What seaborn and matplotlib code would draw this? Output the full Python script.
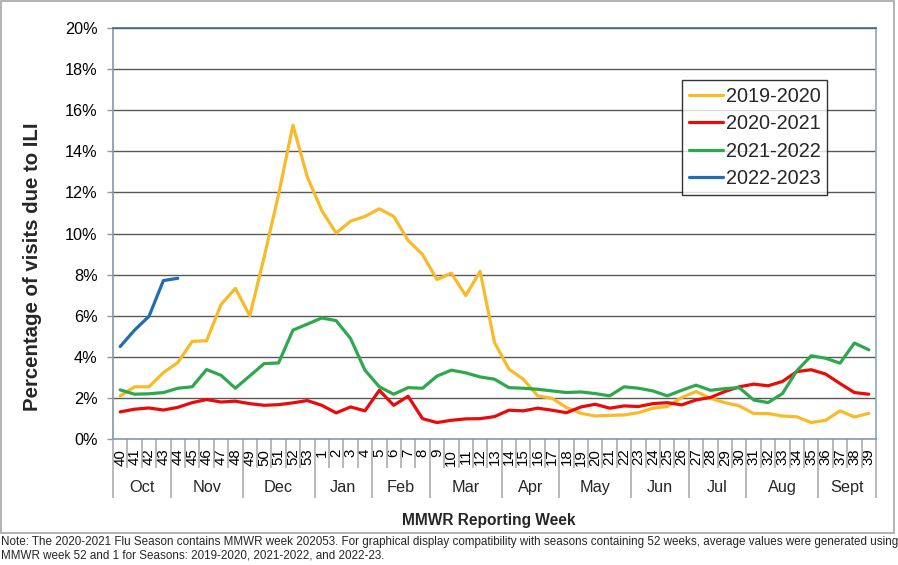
"""ILI percentage of visits by MMWR week, four flu seasons."""

import matplotlib
matplotlib.use("Agg")
import matplotlib.pyplot as plt
import numpy as np
import pandas as pd
import seaborn as sns
from matplotlib.patches import Rectangle
from matplotlib.ticker import PercentFormatter

# MMWR weeks shown on the x axis (season order)
weeks = [str(w) for w in list(range(40, 54)) + list(range(1, 40))]

# month groups under the week labels
months = ["Oct", "Nov", "Dec", "Jan", "Feb", "Mar", "Apr", "May", "Jun", "Jul", "Aug", "Sept"]
month_weeks = [4, 5, 5, 4, 4, 5, 4, 5, 4, 4, 5, 4]

# percentage of visits due to ILI
ili_2019 = [2.10, 2.54, 2.54, 3.23, 3.72, 4.75, 4.78, 6.54, 7.33, 6.00,
            8.85, 11.90, 15.27, 12.75, 11.12, 10.02, 10.60, 10.83, 11.20, 10.83,
            9.66, 8.98, 7.76, 8.07, 6.98, 8.16, 4.70, 3.40, 2.91, 2.10,
            1.98, 1.53, 1.25, 1.12, 1.15, 1.17, 1.28, 1.50, 1.58, 2.02,
            2.31, 1.98, 1.77, 1.61, 1.24, 1.24, 1.12, 1.08, 0.80, 0.91,
            1.37, 1.07, 1.25]
ili_2020 = [1.32, 1.45, 1.51, 1.41, 1.54, 1.77, 1.92, 1.80, 1.84, 1.72,
            1.64, 1.67, 1.76, 1.87, 1.64, 1.27, 1.56, 1.37, 2.37, 1.64,
            2.08, 0.99, 0.80, 0.91, 0.98, 0.99, 1.09, 1.40, 1.37, 1.50,
            1.40, 1.28, 1.56, 1.69, 1.50, 1.61, 1.58, 1.72, 1.77, 1.66,
            1.90, 2.02, 2.31, 2.54, 2.67, 2.59, 2.80, 3.28, 3.37, 3.16,
            2.70, 2.26, 2.18]
ili_2021 = [2.39, 2.18, 2.20, 2.26, 2.47, 2.54, 3.38, 3.10, 2.47, 3.07,
            3.67, 3.70, 5.30, 5.59, 5.89, 5.76, 4.89, 3.35, 2.54, 2.18,
            2.50, 2.47, 3.06, 3.35, 3.22, 3.02, 2.91, 2.50, 2.47, 2.42,
            2.34, 2.26, 2.29, 2.21, 2.10, 2.54, 2.47, 2.34, 2.10, 2.37,
            2.62, 2.37, 2.45, 2.50, 1.90, 1.77, 2.21, 3.32, 4.05, 3.93,
            3.69, 4.67, 4.34]
ili_2022 = [4.50, 5.30, 5.97, 7.71, 7.82]

seasons = ["2019-2020", "2020-2021", "2021-2022", "2022-2023"]
colors = ["#F9BA2A", "#EA0A0A", "#2EA84C", "#1F6EB4"]

note = ("Note: The 2020-2021 Flu Season contains MMWR week 202053. For graphical display "
        "compatibility with seasons containing 52 weeks, average values were generated using\n"
        "MMWR week 52 and 1 for Seasons: 2019-2020, 2021-2022, and 2022-23.")

# long-form table for seaborn
frames = []
for name, vals in zip(seasons, [ili_2019, ili_2020, ili_2021, ili_2022]):
    frames.append(pd.DataFrame({"pos": np.arange(len(vals)), "ili": vals, "season": name}))
df = pd.concat(frames, ignore_index=True)

sns.set_theme(style="white")
plt.rcParams["font.family"] = ["Liberation Sans", "DejaVu Sans"]

W, H = 898, 565
fig = plt.figure(figsize=(W / 100, H / 100), dpi=100)
ax = fig.add_axes([113 / W, 1 - 439 / H, (876 - 113) / W, (439 - 28) / H])

sns.lineplot(data=df, x="pos", y="ili", hue="season", hue_order=seasons,
             palette=dict(zip(seasons, colors)), linewidth=2.3, ax=ax)

ax.set_xlim(-0.5, len(weeks) - 0.5)
ax.set_ylim(0, 20)
ax.set_yticks(np.arange(0, 21, 2))
ax.yaxis.set_major_formatter(PercentFormatter(xmax=100, decimals=0))
ax.set_xticks(np.arange(len(weeks)))
ax.set_xticklabels(weeks, rotation=90)
ax.set_xlabel("")
ax.set_ylabel("")
ax.grid(axis="y", color="#595959", linewidth=1.0)
ax.set_axisbelow(True)

ax.tick_params(axis="y", left=True, length=4, width=1, color="#8a9bab",
               pad=7, labelsize=11.7, labelcolor="black")
ax.tick_params(axis="x", bottom=False, length=0, pad=7, labelsize=10.8,
               labelcolor="black")

ax.spines["left"].set_color("#8497a8")
ax.spines["bottom"].set_color("#8a9bab")
ax.spines["top"].set_color("#3f6f94")
ax.spines["right"].set_color("#86a9c9")
for sp in ax.spines.values():
    sp.set_linewidth(1.2)

# week and month separators below the axis
bounds = np.concatenate([[0], np.cumsum(month_weeks)]) - 0.5
week_lines = [k - 0.5 for k in range(1, len(weeks)) if (k - 0.5) not in bounds]
xtr = ax.get_xaxis_transform()
ax.vlines(week_lines, -0.0706, 0, transform=xtr, clip_on=False,
          color="#a6a6a6", linewidth=1.1)
ax.vlines(bounds, -0.1436, 0, transform=xtr, clip_on=False,
          color="#a6a6a6", linewidth=1.1)
for name, lo, hi in zip(months, bounds[:-1], bounds[1:]):
    ax.text((lo + hi) / 2, -0.118, name, transform=xtr, ha="center", va="center",
            fontsize=11.7)

leg = ax.legend(loc="upper left", bbox_to_anchor=(0.7458, 0.8735), borderaxespad=0,
                fontsize=14.3, frameon=True, fancybox=False, handlelength=1.7,
                handletextpad=0.15, labelspacing=0.42, borderpad=0.35)
leg.get_frame().set_edgecolor("black")
leg.get_frame().set_linewidth(1.0)
for line in leg.get_lines():
    line.set_linewidth(2.3)

fig.text(33 / W, 1 - 267 / H, "Percentage of visits due to ILI", rotation=90,
         ha="center", va="center", fontsize=14.7, fontweight="bold")
fig.text(489 / W, 1 - 520 / H, "MMWR Reporting Week", ha="center", va="center",
         fontsize=11.2, fontweight="bold")
fig.text(1 / W, 1 - 548.5 / H, note, ha="left", va="center", fontsize=8.4,
         linespacing=1.2)

fig.patches.append(Rectangle((0.5 / W, 1 - 533 / H), 893.5 / W, 532 / H,
                             transform=fig.transFigure, fill=False,
                             edgecolor="#a6a6a6", linewidth=1.2))

fig.savefig("out.png", dpi=100)
plt.close(fig)
